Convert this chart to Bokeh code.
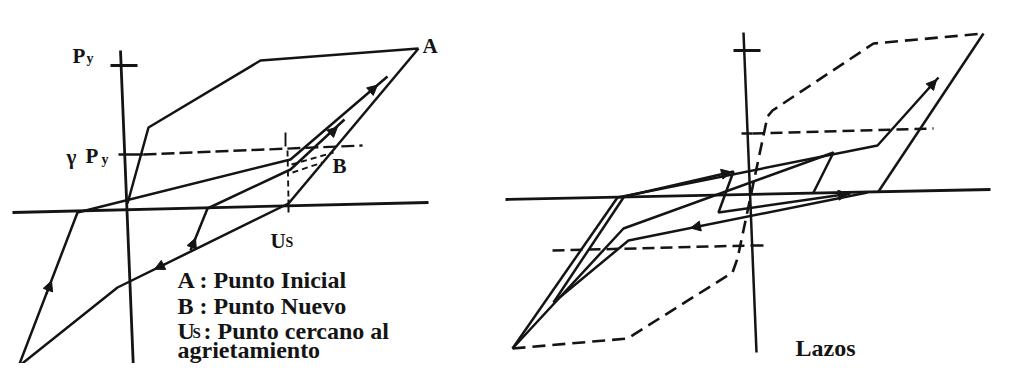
from bokeh.plotting import figure
from bokeh.models import Range1d, Arrow, NormalHead, ColumnDataSource
from bokeh.embed import file_html
from bokeh.resources import INLINE
from bokeh.core.properties import value

# ---------------- schematic data (reference pixel space, y downward) ----------------
# Left panel
L_AXIS_H_X, L_AXIS_H_Y = [12, 428], [212, 202]
L_AXIS_V_X, L_AXIS_V_Y = [120, 133], [50, 370]
L_TICK_TOP_X, L_TICK_TOP_Y = [110, 137], [65, 65]
L_TICK_G_X, L_TICK_G_Y = [118, 143], [154, 154]
L_GAMMA_DASH_X, L_GAMMA_DASH_Y = [143, 362], [154, 145]
L_US_DASH_X, L_US_DASH_Y = [287, 288], [150, 200]
L_US_TOP_X, L_US_TOP_Y = [285, 285], [132, 146]
L_US_TICK_X, L_US_TICK_Y = [288, 288], [199, 212]
ENV_X, ENV_Y = [127, 148, 260, 418], [203, 127, 60, 48]
A_US_X, A_US_Y = [418, 288], [48, 203]
LOWER_X, LOWER_Y = [288, 117, 18, 77, 290, 387], [203, 287, 366, 212, 159, 76]
RELOAD_X, RELOAD_Y = [190, 207, 290, 344], [250, 208, 169, 119]
B_DASH1_X, B_DASH1_Y = [291, 333], [164, 152]
B_DASH2_X, B_DASH2_Y = [292, 322], [172, 162]

# Right panel
R_AXIS_H_X, R_AXIS_H_Y = [505, 990], [199, 189]
R_AXIS_V_X, R_AXIS_V_Y = [743, 756], [32, 352]
R_TICK_TOP_X, R_TICK_TOP_Y = [733, 760], [50, 50]
R_TICK_UP_X, R_TICK_UP_Y = [741, 752], [133, 133]
R_TICK_LOW_X, R_TICK_LOW_Y = [750, 763], [245, 245]
R_DASH_UP_X, R_DASH_UP_Y = [752, 933], [133, 128]
R_DASH_LOW_X, R_DASH_LOW_Y = [552, 750], [250, 245]
R_ENV_X = [512, 627, 732, 737, 767, 772, 873, 983]
R_ENV_Y = [348, 338, 272, 258, 116, 110, 43, 33]
R_UNLOAD_X, R_UNLOAD_Y = [983, 878], [33, 191]
R1_X, R1_Y = [617, 512], [197, 348]
R2_X, R2_Y = [623, 553], [197, 302]
R3_X, R3_Y = [512, 623, 833, 813], [348, 228, 152, 192]
R4_X, R4_Y = [553, 628, 867], [302, 240, 192]
R5_X, R5_Y = [617, 877, 938], [197, 145, 77]
R6_X, R6_Y = [620, 733, 718, 850], [197, 171, 212, 193]

# arrows (start -> end, head at end), placed on the lines above
ARR_X0 = [46, 165, 191, 369, 330, 928, 722, 700, 838]
ARR_Y0 = [293.4, 263.4, 247.5, 91.5, 133.0, 88.1, 173.5, 225.5, 194.7]
ARR_X1 = [51, 154, 195, 377, 337, 936, 731, 690, 848]
ARR_Y1 = [280.3, 268.8, 237.6, 84.6, 126.5, 79.2, 171.5, 227.5, 193.3]

# texts (y = baseline in reference pixels)
BIG_TXT = ["A : Punto Inicial", "B : Punto Nuevo", ": Punto cercano al", "agrietamiento", "Lazos"]
BIG_X = [177, 177, 203, 177, 795]
BIG_Y = [287, 313, 338, 357, 355]
LBL_TXT = ["P", "γ", "P", "A", "B", "U"]
LBL_X = [72, 66, 85, 422, 332, 270]
LBL_Y = [63, 164, 163, 53, 173, 248]
SUB_TXT = ["y", "y", "S"]
SUB_X = [86, 101, 285]
SUB_Y = [66, 167, 250]
LEG_U_TXT, LEG_U_X, LEG_U_Y = ["U"], [177], [338]
LEG_S_TXT, LEG_S_X, LEG_S_Y = ["S"], [192], [340]

# ---------------- figure ----------------
p = figure(width=995, height=363, x_range=Range1d(0, 995), y_range=Range1d(363, 0),
           output_backend="svg", toolbar_location=None, min_border=0,
           x_axis_location=None, y_axis_location=None)
p.grid.visible = False
p.outline_line_color = None
p.background_fill_color = "white"
p.border_fill_color = "white"

INK = "#141414"
LW = 2.5

def solid(x, y, w=LW):
    p.line(x, y, line_color=INK, line_width=w)

def dashed(x, y, w=LW, dash="12 6"):
    p.line(x, y, line_color=INK, line_width=w, line_dash=dash)

# left
solid(L_AXIS_H_X, L_AXIS_H_Y, 2.8)
solid(L_AXIS_V_X, L_AXIS_V_Y, 2.8)
solid(L_TICK_TOP_X, L_TICK_TOP_Y, 2.8)
solid(L_TICK_G_X, L_TICK_G_Y, 2.4)
dashed(L_GAMMA_DASH_X, L_GAMMA_DASH_Y, 2.4, "13 5")
dashed(L_US_DASH_X, L_US_DASH_Y, 1.9, "6 4")
solid(L_US_TOP_X, L_US_TOP_Y, 1.9)
solid(L_US_TICK_X, L_US_TICK_Y, 2.0)
solid(ENV_X, ENV_Y)
solid(A_US_X, A_US_Y)
solid(LOWER_X, LOWER_Y)
solid(RELOAD_X, RELOAD_Y)
dashed(B_DASH1_X, B_DASH1_Y, 1.9, "6 4")
dashed(B_DASH2_X, B_DASH2_Y, 1.9, "6 4")

# right
solid(R_AXIS_H_X, R_AXIS_H_Y, 2.8)
solid(R_AXIS_V_X, R_AXIS_V_Y, 2.5)
solid(R_TICK_TOP_X, R_TICK_TOP_Y, 2.8)
solid(R_TICK_UP_X, R_TICK_UP_Y, 2.5)
solid(R_TICK_LOW_X, R_TICK_LOW_Y, 2.4)
dashed(R_DASH_UP_X, R_DASH_UP_Y)
dashed(R_DASH_LOW_X, R_DASH_LOW_Y)
dashed(R_ENV_X, R_ENV_Y, 2.6, "13 7")
solid(R_UNLOAD_X, R_UNLOAD_Y)
for xx, yy in [(R1_X, R1_Y), (R2_X, R2_Y), (R3_X, R3_Y), (R4_X, R4_Y), (R5_X, R5_Y), (R6_X, R6_Y)]:
    solid(xx, yy)

# arrows
asrc = ColumnDataSource(dict(x0=ARR_X0, y0=ARR_Y0, x1=ARR_X1, y1=ARR_Y1))
p.add_layout(Arrow(end=NormalHead(size=10, fill_color=INK, line_color=INK, line_width=1),
                   x_start="x0", y_start="y0", x_end="x1", y_end="y1",
                   source=asrc, line_color=INK, line_width=2))

# texts (SVG text renders ~8px below the requested baseline; compensate)
SHIFT = 8
def sh(ys):
    return [v - SHIFT for v in ys]

font = value("Liberation Serif")
common = dict(text_font=font, text_font_style="bold", text_color=INK,
              text_baseline="alphabetic", text_align="left")
p.text(x=BIG_X, y=sh(BIG_Y), text=BIG_TXT, text_font_size="24px", **common)
p.text(x=LEG_U_X, y=sh(LEG_U_Y), text=LEG_U_TXT, text_font_size="24px", **common)
p.text(x=LEG_S_X, y=sh(LEG_S_Y), text=LEG_S_TXT, text_font_size="15px", **common)
p.text(x=LBL_X, y=sh(LBL_Y), text=LBL_TXT, text_font_size="21px", **common)
p.text(x=SUB_X, y=sh(SUB_Y), text=SUB_TXT, text_font_size="14px", **common)

open("out.html", "w").write(file_html(p, INLINE))
